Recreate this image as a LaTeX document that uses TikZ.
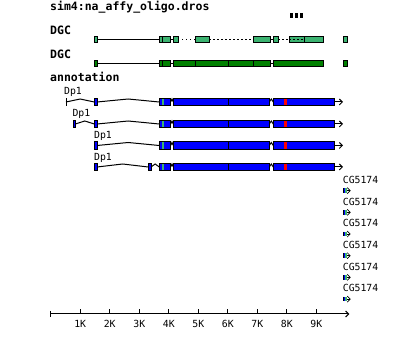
\documentclass[tikz,border=0pt]{standalone}
\usepackage{fontspec}
\setmonofont{DejaVu Sans Mono}
\usetikzlibrary{arrows.meta}
\definecolor{AffyGreen}{HTML}{3CB371}
\definecolor{DgcGreen}{HTML}{008000}
\definecolor{CdsBlue}{HTML}{0000FF}
\definecolor{SnpRed}{HTML}{FF0000}
\tikzset{
  tracklab/.style={font=\fontsize{11.5}{12}\selectfont\ttfamily\bfseries,
                   anchor=base west, inner sep=0pt},
  genelab/.style={font=\fontsize{9.8}{10}\selectfont\ttfamily,
                  anchor=base west, inner sep=0pt},
  ticklab/.style={font=\fontsize{9.8}{10}\selectfont\ttfamily,
                  anchor=base, inner sep=0pt},
  seg/.style={draw=black, line width=1pt},
  exonbox/.style={draw=black, line width=1pt},
  gaplink/.style={draw=black, line width=1pt, dash pattern=on 2pt off 2pt},
  dotlink/.style={draw=black, line width=1pt, dash pattern=on 1pt off 3pt},
  strand/.style={draw=black, line width=1pt,
                 -{Straight Barb[length=3pt, width=6pt]}},
}
% exon: x1, x2, y, half height, fill
\newcommand\featbox[5]{\filldraw[exonbox, fill=#5] (#1,#3-#4) rectangle (#2,#3+#4);}
% intron hat: x1, x2, y
\newcommand\hatlink[3]{\draw[seg] (#1,#3) -- ({(#1+#2)/2},#3-3) -- (#2,#3);}

\begin{document}
\begin{tikzpicture}[x=1pt, y=-1pt]
  \useasboundingbox (0,0) rectangle (400,361);

  \node[tracklab] (title) at (50,10.5) {sim4:na\_affy\_oligo.dros};
  \foreach \bx in {289.5, 294.5, 299.5}
    \fill[black] (\bx,13.3) rectangle (\bx+3,18.3);

  % ---- DGC, alignment with gaps
  \node[tracklab] (dgcA) at (50,35) {DGC};
  \draw[seg] (97,40) -- (159.3,40);
  \draw[seg] (170.7,40) -- (173.3,40);
  \draw[dotlink] (178.3,40) -- (195,40);
  \draw[gaplink] (209.3,40) -- (253.3,40);
  \draw[seg] (270,40) -- (273.3,40);
  \draw[gaplink] (278.3,40) -- (289.3,40);
  \featbox{94}{97}{40}{3}{AffyGreen}
  \featbox{159.3}{170.7}{40}{3}{AffyGreen}
  \draw[seg] (162.7,37) -- (162.7,43);
  \featbox{173.3}{178.3}{40}{3}{AffyGreen}
  \featbox{195}{209.3}{40}{3}{AffyGreen}
  \featbox{253.3}{270}{40}{3}{AffyGreen}
  \featbox{273.3}{278.3}{40}{3}{AffyGreen}
  \featbox{289.3}{323.3}{40}{3}{AffyGreen}
  \draw[gaplink] (289.3,40) -- (304.3,40);
  \draw[seg] (304.3,37) -- (304.3,43);
  \featbox{343}{347}{40}{3}{AffyGreen}

  % ---- DGC, merged
  \node[tracklab] (dgcB) at (50,58.3) {DGC};
  \draw[seg] (97,64) -- (159.3,64);
  \draw[seg] (170.7,64) -- (173.3,64);
  \draw[seg] (270,64) -- (273.3,64);
  \featbox{94}{97}{64}{3}{DgcGreen}
  \featbox{159.3}{170.7}{64}{3}{DgcGreen}
  \featbox{173.3}{270}{64}{3}{DgcGreen}
  \featbox{273.3}{323.3}{64}{3}{DgcGreen}
  \foreach \dx in {162.7, 195, 228.3, 253.3}
    \draw[seg] (\dx,61) -- (\dx,67);
  \featbox{343}{347}{64}{3}{DgcGreen}

  % ---- annotation
  \node[tracklab] (annot) at (50,82) {annotation};
  \node[genelab] (dpA) at (64,95) {Dp1};
  \node[genelab] (dpB) at (72.3,117) {Dp1};
  \node[genelab] (dpC) at (94,139) {Dp1};
  \node[genelab] (dpD) at (94,160.5) {Dp1};

  % row-specific 5' ends
  \draw[seg] (66,98.3) -- (66,105.7);
  \hatlink{66}{94.3}{102}
  \featbox{73}{75.3}{124}{3.7}{CdsBlue}
  \hatlink{75.3}{94.3}{124}
  \hatlink{97}{148.3}{167}
  \featbox{148.3}{151}{167}{3.7}{CdsBlue}
  \hatlink{151}{159.3}{167}

  % shared part of the four transcripts
  \foreach \ty/\long in {102/1, 124/1, 145.5/1, 167/0} {
    \ifnum\long=1 \hatlink{97}{159.3}{\ty} \fi
    \featbox{94.3}{97}{\ty}{3.7}{CdsBlue}
    \hatlink{170.7}{173.3}{\ty}
    \hatlink{269.3}{273.3}{\ty}
    \featbox{159.3}{170.7}{\ty}{3.7}{CdsBlue}
    \fill[AffyGreen] (161.7,\ty-3.2) rectangle (164.3,\ty+3.2);
    \featbox{173.3}{269.3}{\ty}{3.7}{CdsBlue}
    \draw[seg] (228.3,\ty-3.7) -- (228.3,\ty+3.7);
    \featbox{273.3}{334.3}{\ty}{3.7}{CdsBlue}
    \fill[SnpRed] (284,\ty-3.2) rectangle (286.7,\ty+3.2);
    \draw[strand] (334.3,\ty) -- (343,\ty);
  }

  % ---- CG5174 copies
  \foreach \k in {0,...,5} {
    \node[genelab] (cg\k) at (342.7,183.5+21.67*\k) {CG5174};
    \fill[CdsBlue] (342.7,188.4+21.67*\k) rectangle (345,193+21.67*\k);
    \fill[AffyGreen] (345,188.4+21.67*\k) rectangle (347,193+21.67*\k);
    \draw[line width=0.8pt] (342.9,188.4+21.67*\k) -- (342.9,193+21.67*\k);
    \draw[strand, line width=0.7pt] (347,190.7+21.67*\k) -- (350.7,190.7+21.67*\k);
  }

  % ---- scale
  \draw[strand] (50.7,314) -- (349.3,314);
  \draw[seg] (50.7,311) -- (50.7,317);
  \foreach \k in {1,...,9} {
    \draw[seg] (50.7+29.52*\k,309.3) -- (50.7+29.52*\k,314);
    \node[ticklab] (tk\k) at (50.7+29.52*\k,327.3) {\k K};
  }
\end{tikzpicture}
\end{document}
